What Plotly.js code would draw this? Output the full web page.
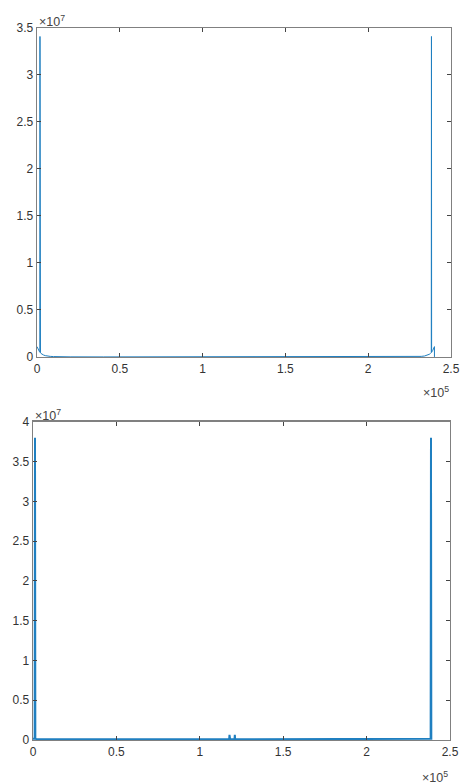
<!DOCTYPE html>
<html>
<head>
<meta charset="utf-8">
<script src="https://cdn.plot.ly/plotly-3.0.1.min.js"></script>
<style>html,body{margin:0;padding:0;background:#fff;}#chart{width:474px;height:784px;}</style>
</head>
<body>
<div id="chart"></div>
<script>
// Top panel series
var topX = [0, 300, 600, 1000, 1500, 1700, 1800, 1900, 2100, 2500, 3000, 4000, 5000, 6000, 8000, 10000, 15000, 20000, 40000, 80000, 120000, 160000, 200000, 220000, 225000, 230000, 232000, 234000, 235000, 236000, 237000, 237500, 238000, 238100, 238200, 238300, 238500, 239000, 239400, 239700, 240000, 240000];
var topY = [1100000, 950000, 850000, 700000, 560000, 500000, 34100000, 470000, 430000, 360000, 290000, 200000, 140000, 100000, 60000, 40000, 20000, 10000, 4000, 2000, 2000, 2000, 4000, 10000, 20000, 40000, 60000, 100000, 140000, 200000, 290000, 360000, 430000, 470000, 34100000, 500000, 560000, 700000, 850000, 950000, 1100000, 0];
// Bottom panel series
var botX = [0, 600, 1000, 1200, 1400, 2000, 5000, 20000, 60000, 100000, 117000, 117600, 117800, 118000, 118200, 120000, 120800, 121000, 121200, 122000, 140000, 180000, 220000, 238000, 238400, 238600, 238800, 239400];
var botY = [150000, 150000, 150000, 38000000, 150000, 120000, 100000, 80000, 80000, 80000, 80000, 80000, 650000, 80000, 80000, 80000, 80000, 650000, 80000, 80000, 80000, 80000, 80000, 100000, 150000, 38000000, 150000, 150000];
// Tick labels
var xTickVals = [0, 50000, 100000, 150000, 200000, 250000];
var xTickText = ['0', '0.5', '1', '1.5', '2', '2.5'];
var topYTickVals = [0, 5e6, 1e7, 1.5e7, 2e7, 2.5e7, 3e7, 3.5e7];
var topYTickText = ['0', '0.5', '1', '1.5', '2', '2.5', '3', '3.5'];
var botYTickVals = [0, 5e6, 1e7, 1.5e7, 2e7, 2.5e7, 3e7, 3.5e7, 4e7];
var botYTickText = ['0', '0.5', '1', '1.5', '2', '2.5', '3', '3.5', '4'];

var lineBlue = '#1f7fc0';
var axCol = '#808080';
var txtCol = '#333333';
var fnt = {family: 'Liberation Sans, Arial, sans-serif', size: 12, color: txtCol};
var expFnt = {family: 'Liberation Sans, Arial, sans-serif', size: 12.5, color: '#444'};

function ax(extra) {
  var a = {
    showline: true, linecolor: axCol, linewidth: 1.3, mirror: 'ticks',
    ticks: 'inside', ticklen: 4, tickcolor: '#444', tickwidth: 1,
    showgrid: false, zeroline: false, tickfont: fnt, fixedrange: true
  };
  for (var k in extra) a[k] = extra[k];
  return a;
}

var traces = [
  {x: topX, y: topY, type: 'scatter', mode: 'lines', line: {color: lineBlue, width: 1}, xaxis: 'x', yaxis: 'y', hoverinfo: 'none'},
  {x: botX, y: botY, type: 'scatter', mode: 'lines', line: {color: lineBlue, width: 2}, xaxis: 'x2', yaxis: 'y2', hoverinfo: 'none'}
];

var layout = {
  width: 474, height: 784,
  margin: {l: 33, r: 23, t: 28, b: 44},
  paper_bgcolor: '#fff', plot_bgcolor: '#fff',
  showlegend: false,
  xaxis: ax({domain: [4/418, 1], range: [0, 250000], tickvals: xTickVals, ticktext: xTickText, anchor: 'y'}),
  yaxis: ax({domain: [0.538, 1], range: [0, 3.5e7], tickvals: topYTickVals, ticktext: topYTickText, anchor: 'x'}),
  xaxis2: ax({domain: [0, 417/418], range: [0, 250000], tickvals: xTickVals, ticktext: xTickText, anchor: 'y2'}),
  yaxis2: ax({domain: [0, 0.447], range: [0, 4e7], tickvals: botYTickVals, ticktext: botYTickText, anchor: 'x2'}),
  annotations: [
    {text: '×10<sup>7</sup>', xref: 'paper', yref: 'paper', x: 4/418, y: 1, xanchor: 'left', yanchor: 'bottom', showarrow: false, font: expFnt, yshift: -3},
    {text: '×10<sup>5</sup>', xref: 'paper', yref: 'paper', x: 1, y: 0.538, xanchor: 'right', yanchor: 'top', showarrow: false, font: expFnt, yshift: -25},
    {text: '×10<sup>7</sup>', xref: 'paper', yref: 'paper', x: 0, y: 0.447, xanchor: 'left', yanchor: 'bottom', showarrow: false, font: expFnt, yshift: -3},
    {text: '×10<sup>5</sup>', xref: 'paper', yref: 'paper', x: 417/418, y: 0, xanchor: 'right', yanchor: 'top', showarrow: false, font: expFnt, yshift: -27}
  ]
};

Plotly.newPlot('chart', traces, layout, {displayModeBar: false, staticPlot: true});
</script>
</body>
</html>
